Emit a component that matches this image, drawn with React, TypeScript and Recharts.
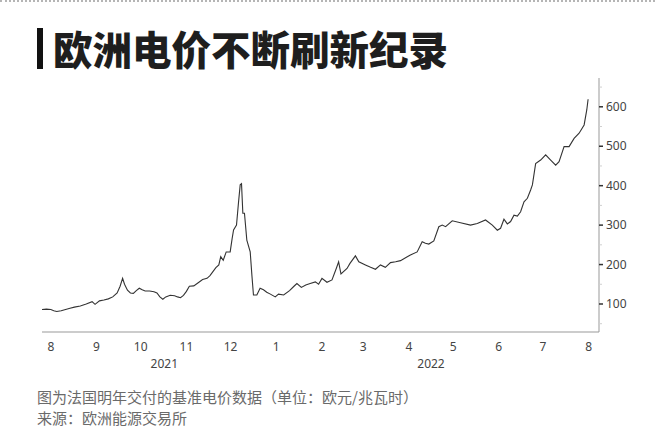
import React from 'react';
import { LineChart, Line, XAxis, YAxis } from 'recharts';

// day 0 = 2021-08-01, price in EUR/MWh
const days = [
  -6, -3, 0, 2, 4, 7, 10, 13, 16, 20, 24, 28, 30, 33, 36, 39, 42, 45, 47, 48.7,
  50, 52, 54, 56, 58, 60, 62, 64, 67, 70, 72, 74, 76, 78, 81, 84, 86, 88, 90, 92,
  94, 97, 100, 103, 106, 108, 110, 112, 114, 115.3, 117, 119, 121.7, 123, 124, 126, 127.3, 128.5, 129.4, 130.3,
  131.4, 133, 135.3, 136.5, 137.5, 139.8, 142, 144.3, 146.5, 149, 152.3, 154.5, 158, 162, 165, 167, 170, 173, 176, 179.5,
  181.7, 184, 187.4, 190.8, 193.7, 195.3, 196.9, 201, 203, 206.7, 209, 213.5, 217, 220.3, 223.7, 227, 230.5, 234, 237.3, 241,
  244, 248.6, 252, 254.2, 256.5, 259.9, 263.3, 265.6, 267.9, 272.4, 278, 284.8, 289.4, 295, 299.6, 303, 305.2, 307.5, 309.8, 312,
  314.3, 316.6, 318.8, 321.1, 323.4, 325.6, 326.8, 329, 332.4, 335.8, 339.2, 342.6, 344.9, 348.3, 351.7, 355.1, 358.5, 361.9, 363.7, 364.6,
];

const prices = [
  86, 87, 86, 83, 81, 83, 86, 89, 92, 95, 100, 106, 99, 108, 110, 113, 118, 128, 145, 165,
  150, 135, 128, 127, 134, 140, 136, 133, 133, 131, 128, 118, 112, 118, 122, 121, 118, 116, 122, 132,
  145, 146, 154, 162, 165, 172, 182, 192, 199, 220, 211, 232, 232, 265, 288, 300, 355, 402, 405, 330,
  330, 262, 232, 170, 123, 123, 140, 136, 130, 125, 118, 125, 123, 134, 145, 152, 142, 148, 152, 156,
  150, 165, 155, 161, 190, 207, 176, 190, 203, 222, 207, 199, 193, 188, 199, 193, 205, 207, 210, 218,
  224, 232, 258, 254, 252, 260, 296, 300, 296, 311, 306, 300, 304, 313, 300, 287, 292, 315, 303, 309,
  325, 323, 334, 359, 368, 389, 402, 456, 465, 478, 465, 452, 461, 499, 499, 520, 533, 554, 592, 619,
];

const monthTicks = [0, 31, 61, 92, 122, 153, 184, 212, 243, 273, 304, 334, 365];
const monthLabels = ['8', '9', '10', '11', '12', '1', '2', '3', '4', '5', '6', '7', '8'];

const yearTicks = [77, 258];
const yearLabels = ['2021', '2022'];

const priceTicks = [50, 100, 150, 200, 250, 300, 350, 400, 450, 500, 550, 600, 650];

const data = days.map((d, i) => ({ day: d, price: prices[i] }));

const axisFont = '"Noto Sans", "DejaVu Sans", sans-serif';

const PriceTick = (props: any) => {
  const { x, y, payload } = props;
  const major = payload.value % 100 === 0;
  if (!major) {
    return <line x1={x} x2={x + 3} y1={y} y2={y} stroke="#d0d0d0" />;
  }
  return (
    <g>
      <line x1={x} x2={x + 4} y1={y} y2={y} stroke="#333" strokeWidth={1.5} />
      <text x={x + 7} y={y} dy="0.35em" textAnchor="start" fill="#444" fontSize={12} fontFamily={axisFont}>
        {payload.value}
      </text>
    </g>
  );
};

export default function App() {
  return (
    <div style={{ position: 'absolute', left: 0, top: 0, width: 655, height: 440, background: '#fff', overflow: 'hidden' }}>
      <div style={{ position: 'absolute', left: 0, top: 0, width: 655, borderTop: '2px dotted #b5b5b5' }} />
      <div style={{ position: 'absolute', left: 37, top: 28, width: 6, height: 41, background: '#111' }} />
      <div
        style={{
          position: 'absolute',
          left: 53,
          top: 28,
          fontFamily: '"Noto Sans CJK SC", sans-serif',
          fontWeight: 900,
          fontSize: 39.5,
          lineHeight: '39px',
          color: '#1e1e1e',
          whiteSpace: 'nowrap',
        }}
      >
        欧洲电价不断刷新纪录
      </div>

      <div style={{ position: 'absolute', left: 0, top: 0 }}>
        <LineChart width={655} height={440} data={data} margin={{ top: 78, right: 0, bottom: 68, left: 42 }}>
          <XAxis
            dataKey="day"
            type="number"
            domain={[-6, 372]}
            ticks={monthTicks}
            tickFormatter={(v: number) => monthLabels[monthTicks.indexOf(v)]}
            interval={0}
            height={20}
            axisLine={{ stroke: '#999' }}
            tickLine={false}
            tickSize={0}
            tickMargin={10}
            tick={{ fill: '#444', fontSize: 12, fontFamily: axisFont }}
            allowDataOverflow
          />
          <XAxis
            xAxisId="year"
            dataKey="day"
            type="number"
            domain={[-6, 372]}
            ticks={yearTicks}
            tickFormatter={(v: number) => yearLabels[yearTicks.indexOf(v)]}
            interval={0}
            height={20}
            axisLine={false}
            tickLine={false}
            tickSize={0}
            tickMargin={7}
            tick={{ fill: '#444', fontSize: 12, fontFamily: axisFont }}
            allowDataOverflow
          />
          <YAxis
            orientation="right"
            type="number"
            domain={[29, 673]}
            ticks={priceTicks}
            interval={0}
            width={56}
            axisLine={{ stroke: '#999' }}
            tickLine={false}
            tickSize={0}
            tickMargin={0}
            tick={<PriceTick />}
            allowDataOverflow
          />
          <Line
            type="linear"
            dataKey="price"
            stroke="#333"
            strokeWidth={1.1}
            dot={false}
            isAnimationActive={false}
          />
        </LineChart>
      </div>

      <div
        style={{
          position: 'absolute',
          left: 37,
          top: 386,
          fontFamily: '"Noto Sans CJK SC", sans-serif',
          fontSize: 15,
          lineHeight: '21px',
          color: '#6a6a6a',
          whiteSpace: 'nowrap',
        }}
      >
        <div>图为法国明年交付的基准电价数据（单位：欧元/兆瓦时）</div>
        <div>来源：欧洲能源交易所</div>
      </div>
    </div>
  );
}
